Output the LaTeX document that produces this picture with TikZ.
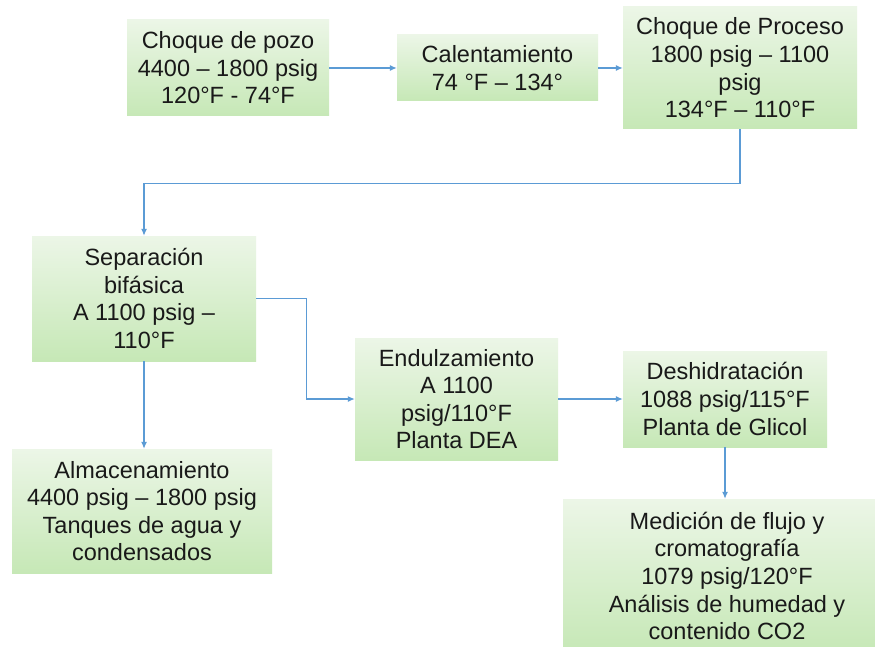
\documentclass[tikz,border=0pt]{standalone}
\usepackage{fontspec}
\setmainfont{Liberation Sans}
\usetikzlibrary{arrows.meta}
\definecolor{verdeclaro}{RGB}{236,246,231}
\definecolor{verdeoscuro}{RGB}{198,232,182}
\definecolor{azulflecha}{RGB}{91,155,213}
\tikzset{
  etapa/.style={top color=verdeclaro, bottom color=verdeoscuro, draw=none,
    align=center, inner sep=0pt, text=black!90,
    font=\fontsize{23.5}{27.6}\selectfont},
  flujo/.style={draw=azulflecha, line width=1.2pt, -{Latex[length=7pt,width=6pt]}}
}
\begin{document}
\begin{tikzpicture}[x=1pt, y=-1pt]
	\clip (0,0) rectangle (875,647);
	\fill[white] (0,0) rectangle (875,647);
	% etapas del proceso
	\node[etapa, minimum width=202pt, minimum height=96pt] (pozo) at (228,68) {Choque de pozo\\4400 -- 1800 psig\\120°F - 74°F};
	\node[etapa, minimum width=201pt, minimum height=66pt] (calent) at (497.5,68) {Calentamiento\\74 °F -- 134°};
	\node[etapa, minimum width=234pt, minimum height=122pt] (proceso) at (740,68) {Choque de Proceso\\1800 psig -- 1100\\psig\\134°F -- 110°F};
	\node[etapa, minimum width=224pt, minimum height=125pt] (sep) at (144,298.5) {Separación\\bifásica\\A 1100 psig --\\110°F};
	\node[etapa, minimum width=260pt, minimum height=124pt] (almac) at (142,511) {Almacenamiento\\4400 psig -- 1800 psig\\Tanques de agua y\\condensados};
	\node[etapa, minimum width=203pt, minimum height=122pt] (endulz) at (456.5,399) {Endulzamiento\\A 1100\\psig/110°F\\Planta DEA};
	\node[etapa, minimum width=204pt, minimum height=96pt] (desh) at (725,399) {Deshidratación\\1088 psig/115°F\\Planta de Glicol};
	\node[etapa, minimum width=328pt, minimum height=154pt] (medicion) at (727,576) {Medición de flujo y\\cromatografía\\1079 psig/120°F\\Análisis de humedad y\\contenido CO2};
	% conexiones
	\draw[flujo] (pozo.east) -- (calent.west);
	\draw[flujo] (calent.east) -- (proceso.west);
	\draw[flujo] (proceso.south) -- ++(0,54) -| (sep.north);
	\draw[flujo] (sep.east) -- ++(50,0) |- (endulz.west);
	\draw[flujo] (sep.south) -- (sep.south |- almac.north);
	\draw[flujo] (endulz.east) -- (desh.west);
	\draw[flujo] (desh.south) -- (desh.south |- medicion.north);
\end{tikzpicture}
\end{document}
